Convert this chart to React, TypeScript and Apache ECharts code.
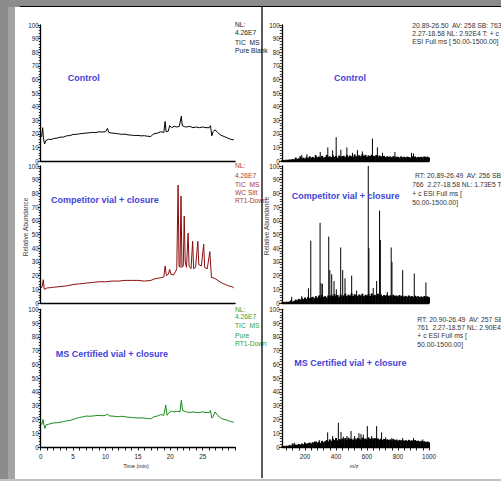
import React, { useEffect, useRef } from 'react';
import * as echarts from 'echarts';

// ---------- TIC chromatograms: [time (min), relative abundance] ----------
const controlTic: number[][] = [
  [0, 17.5], [0.15, 18], [0.3, 24.5], [0.42, 17], [0.6, 12.5], [0.8, 15], [1.2, 16], [1.6, 15.8], [2, 16.5], [2.5, 16.8], [3, 17.5], [3.5, 17.6],
  [4, 18.5], [4.5, 18.7], [5, 19.5], [5.5, 19.6], [6, 20], [6.5, 20.3], [7, 20.5], [7.5, 20.8], [8, 21], [8.5, 20.9], [9, 21.5], [9.5, 21.3],
  [10, 21.5], [10.3, 24], [10.5, 21], [11, 20.5], [11.5, 20.3], [12, 20], [12.5, 19.6], [13, 19.8], [13.5, 19.2], [14, 19], [14.5, 18.7],
  [15, 18.8], [15.5, 18.5], [16, 18.6], [16.5, 18.2], [17, 18], [17.3, 19.5], [17.5, 20], [18, 20.5], [18.5, 21.5], [19, 21], [19.2, 29],
  [19.35, 21.5], [19.7, 22], [19.9, 26], [20.2, 24.5], [20.6, 25.5], [21, 25], [21.4, 25.5], [21.7, 33], [21.85, 26], [22.2, 25.2],
  [22.5, 25], [23, 25.5], [23.5, 24.5], [24, 25], [24.5, 24.5], [25, 25], [25.5, 24.5], [26, 24.5], [26.2, 26], [26.4, 18.5], [26.6, 21.5],
  [26.9, 23], [27.3, 21], [27.8, 19], [28.3, 18], [28.8, 17], [29.3, 16], [29.8, 15.5]
];

const competitorTic: number[][] = [
  [0, 11], [0.2, 11.5], [0.4, 17], [0.55, 10], [1, 11], [1.5, 11.2], [2, 11.5], [3, 12], [4, 12.5], [5, 13.5], [6, 14], [7, 14.5],
  [8, 15], [9, 15.5], [10, 15.5], [11, 16], [12, 16], [13, 16.5], [14, 16.5], [15, 16.5], [16, 16], [17, 16.5], [17.5, 17.5], [18, 18],
  [18.6, 18.5], [19, 19], [19.2, 27], [19.4, 20], [19.7, 21], [19.9, 24.5], [20.1, 21], [20.5, 20.5], [20.8, 23], [21, 25], [21.2, 86],
  [21.35, 27], [21.5, 26], [21.65, 78], [21.8, 26], [22, 27], [22.15, 63.5], [22.3, 30], [22.5, 26], [22.75, 51], [22.9, 27], [23.2, 25],
  [23.45, 45], [23.6, 25], [23.9, 26], [24.25, 45], [24.4, 28], [24.8, 27], [25.15, 43], [25.3, 26], [25.7, 25], [26.1, 37.5],
  [26.35, 18.5], [26.6, 18.5], [27, 17.5], [27.5, 16], [28, 14.5], [28.5, 13.5], [29, 12.5], [29.5, 12], [29.8, 11]
];

const certifiedTic: number[][] = [
  [0, 17], [0.2, 16.5], [0.35, 20], [0.5, 16], [0.65, 13.5], [0.8, 16], [1.2, 16.5], [2, 17.5], [2.5, 17.6], [3, 18], [3.5, 18.4],
  [4, 19], [4.5, 19.3], [5, 20], [5.5, 20.8], [6, 21.5], [6.5, 21.8], [7, 22.5], [7.5, 22.3], [8, 22.5], [8.5, 22.8], [9, 23], [9.5, 22.7],
  [10, 23], [10.3, 24], [10.6, 22.5], [11, 22.5], [11.5, 22.2], [12, 22], [12.5, 22.3], [13, 22], [13.5, 21.6], [14, 21.5], [14.5, 21.2],
  [15, 21], [15.5, 21.2], [16, 21], [16.5, 20.7], [17, 20.5], [17.5, 22], [18, 22.5], [18.5, 23.5], [19, 23], [19.3, 30.5], [19.5, 23],
  [19.8, 25], [20.2, 26], [20.6, 25.5], [21, 26], [21.5, 25.5], [21.7, 34], [21.9, 26.5], [22.5, 25.5], [23, 25], [23.5, 25.5], [24, 25],
  [24.5, 25], [25, 25.5], [25.5, 25], [26, 25], [26.2, 26.5], [26.4, 21], [26.6, 22], [26.9, 25.5], [27.3, 23], [27.8, 21], [28.3, 20],
  [28.8, 19.5], [29.3, 18.5], [29.8, 18]
];

// ---------- Mass spectra ----------
const MZ_START = 50;
const MZ_STEP = 10;

const controlBase: number[] = [
  0.5, 0.8, 0.6, 1, 0.8, 1.2, 1, 1.5, 1.2, 2.5,
  1.5, 2, 3.5, 2, 2.5, 1.8, 3, 2.2, 3.5, 2.5,
  3, 2.2, 4, 2.8, 3.2, 2.5, 3.8, 2.6, 3, 4.5,
  3, 3.5, 2.8, 4.2, 3, 3.8, 2.5, 4, 3.2, 3.6,
  3.8, 3, 4.5, 3.2, 4, 3.5, 3, 4.8, 3.4, 3.9,
  4.2, 3.5, 5, 3.8, 4.5, 3.2, 4.1, 3.6, 4.6, 3.9,
  3.6, 4.4, 3.2, 4, 3.5, 3, 3.8, 2.9, 3.4, 3.1,
  3.3, 2.8, 3.6, 2.7, 3.2, 3, 2.6, 3.4, 2.8, 3.1,
  2.7, 3.2, 2.9, 2.5, 3.5, 2.8, 3.3, 2.6, 3, 2.8,
  3.1, 2.7, 3.4, 2.9, 3.2, 2.6
];
const controlPeaks: number[][] = [
  [179, 4.5], [212, 5], [266, 4.5], [298, 6.6], [347, 10], [378, 7.8], [401, 17.5], [431, 8.3], [470, 10], [506, 6],
  [538, 8], [570, 7], [635, 16.5], [667, 10], [700, 6], [780, 6.6], [887, 6], [900, 5.5]
];

const competitorBase: number[] = [
  0.5, 0.8, 0.6, 1, 0.7, 1.2, 2, 1, 1.5, 2.5,
  2, 3, 2.5, 3.5, 2.8, 4, 3, 4.5, 3.5, 4,
  4.5, 3.5, 5, 4, 5.5, 4.2, 6, 4.5, 5, 4,
  5.5, 4.8, 6, 5, 6.5, 5.2, 5.8, 4.6, 6.2, 5,
  5.5, 6.8, 5, 6, 5.4, 7, 5.2, 6.4, 5.8, 5,
  6.2, 5.5, 6.8, 5, 6, 5.6, 6.5, 5.2, 7, 5.5,
  6, 5.2, 6.8, 5.5, 6.2, 5, 5.8, 5.4, 6, 5.2,
  5.6, 4.8, 6, 5.2, 5.5, 4.9, 5.8, 5, 5.4, 4.7,
  5.2, 4.6, 5.5, 4.8, 5, 4.5, 5.3, 4.7, 5, 4.4,
  4.8, 4.3, 5.1, 4.6, 4.9, 4.2
];
const competitorPeaks: number[][] = [
  [114, 4.5], [179, 5], [222, 10.7], [237, 45.5], [297, 58.5], [303, 14.5], [312, 14], [353, 48.5], [360, 24], [372, 21],
  [387, 16], [402, 10], [430, 40.5], [443, 24], [458, 18], [501, 20], [533, 9], [608, 100], [612, 40], [640, 11], [662, 16],
  [681, 67.5], [686, 46], [731, 8], [756, 40.5], [761, 30], [830, 24], [905, 21.5], [980, 15]
];

const certifiedBase: number[] = [
  0.5, 0.8, 0.6, 1, 0.7, 1.5, 1, 2.5, 1.2, 1.8,
  1.5, 2.2, 1.8, 2.5, 2, 3, 2.4, 2.8, 3.2, 2.6,
  3.5, 2.8, 4, 3.2, 3.8, 3, 4.5, 3.5, 4.2, 5,
  4, 5.5, 4.5, 6, 5, 6.5, 4.8, 5.8, 5.2, 6.2,
  5.5, 6.5, 5, 6.8, 5.8, 6, 5.2, 6.4, 5.5, 6.6,
  6, 5.4, 6.8, 5.8, 6.2, 5.5, 7, 5.8, 6.4, 6,
  6.5, 5.8, 6.2, 5.4, 6, 5.2, 5.8, 5, 5.6, 5.2,
  5.5, 4.8, 5.8, 5, 5.4, 4.6, 5.2, 4.8, 5, 4.5,
  5, 4.4, 5.2, 4.6, 4.8, 4.2, 5, 4.4, 4.6, 4,
  4.5, 3.8, 4.2, 3.6, 4, 3.5
];
const certifiedPeaks: number[][] = [
  [131, 3], [197, 3.5], [262, 4], [292, 5], [346, 10.6], [378, 8], [415, 17.6], [432, 11], [447, 7.5], [470, 8], [497, 11.6],
  [520, 8], [548, 10], [561, 9.5], [576, 9], [602, 15.2], [630, 8], [662, 15.2], [694, 10.6], [720, 7], [760, 6.5], [830, 6.5],
  [900, 6.5], [960, 5.5]
];

// ---------- tick labels ----------
const mzLabels = [200, 400, 600, 800, 1000];
const mzTicks = [80, 120, 160, 200, 240, 280, 320, 360, 400, 440, 480, 520, 560, 600, 640, 680, 720, 760, 800, 840, 880, 920, 960, 1000];

const panelTitles = ['Control', 'Competitor vial + closure', 'MS Certified vial + closure'];
const FONT = '"Liberation Sans", Arial, sans-serif';
const BLUE = '#4343d8';

const GRID_TOPS = [25, 166, 309.3];
const GRID_HEIGHTS = [136, 137, 137.7];
const LEFT_X = 40.7, LEFT_W = 194.4;
const RIGHT_X = 281.8, RIGHT_W = 147.2;

const stick = (w: number) => (params: any, api: any) => {
  const x = api.value(0);
  const y = api.value(1);
  const p0 = api.coord([x, 0]);
  const p1 = api.coord([x, y]);
  return {
    type: 'line',
    shape: { x1: p0[0], y1: p0[1], x2: p1[0], y2: p1[1] },
    style: { stroke: '#000', lineWidth: w }
  };
};

function txt(text: string, x: number, y: number, opts: any = {}) {
  return {
    type: 'text',
    x, y, z: 50,
    style: {
      text,
      fill: opts.fill || '#222',
      font: `${opts.bold ? 'bold ' : ''}${opts.size || 6.7}px ${FONT}`,
      textAlign: opts.align || 'left',
      textVerticalAlign: 'middle'
    },
    rotation: opts.rotation || 0
  };
}

function buildOption() {
  const grids: any[] = [];
  const xAxes: any[] = [];
  const yAxes: any[] = [];
  const series: any[] = [];
  const axisLine = { show: true, lineStyle: { color: '#000', width: 1.3 } };

  for (let i = 0; i < 3; i++) {
    grids.push({ left: LEFT_X, top: GRID_TOPS[i], width: LEFT_W, height: GRID_HEIGHTS[i] });
  }
  for (let i = 0; i < 3; i++) {
    grids.push({ left: RIGHT_X, top: GRID_TOPS[i], width: RIGHT_W, height: GRID_HEIGHTS[i] });
  }
  for (let g = 0; g < 6; g++) {
    yAxes.push({
      type: 'value', gridIndex: g, min: 0, max: 100, interval: 10,
      axisLine,
      axisTick: { show: true, length: 3, lineStyle: { color: '#000', width: 0.8 } },
      minorTick: { show: true, splitNumber: 5, length: 2, lineStyle: { color: '#000', width: 0.8 } },
      axisLabel: { fontSize: 6.3, margin: 2, color: '#222', fontFamily: FONT },
      splitLine: { show: false }, minorSplitLine: { show: false }
    });
  }
  for (let i = 0; i < 3; i++) {
    const bottom = i === 2;
    xAxes.push({
      type: 'value', gridIndex: i, min: 0, max: 30, interval: 5,
      axisLine,
      axisTick: { show: bottom, length: 3.5, lineStyle: { color: '#000', width: 0.9 } },
      minorTick: { show: bottom, splitNumber: 5, length: 3.5, lineStyle: { color: '#000', width: 0.9 } },
      axisLabel: { show: bottom, fontSize: 6.3, margin: 6, color: '#222', fontFamily: FONT, showMaxLabel: false },
      splitLine: { show: false }, minorSplitLine: { show: false }
    });
  }
  for (let i = 0; i < 3; i++) {
    const bottom = i === 2;
    xAxes.push({
      type: 'value', gridIndex: 3 + i, min: 50, max: 1000,
      axisLine,
      axisTick: { show: bottom, length: 3.5, customValues: mzTicks, lineStyle: { color: '#000', width: 0.9 } },
      axisLabel: {
        show: bottom, fontSize: 6.3, margin: 6, color: '#222', fontFamily: FONT, customValues: mzLabels,
        formatter: (v: number) => String(v)
      },
      splitLine: { show: false }
    });
  }

  const tics = [controlTic, competitorTic, certifiedTic];
  const ticColors = ['#000000', '#8a0d0d', '#1a8a1a'];
  tics.forEach((d, i) => {
    series.push({
      type: 'line', xAxisIndex: i, yAxisIndex: i, data: d, showSymbol: false, symbol: 'none',
      lineStyle: { color: ticColors[i], width: 1 }, silent: true
    });
  });

  const bases = [controlBase, competitorBase, certifiedBase];
  const peaks = [controlPeaks, competitorPeaks, certifiedPeaks];
  bases.forEach((b, i) => {
    series.push({
      type: 'custom', xAxisIndex: 3 + i, yAxisIndex: 3 + i,
      data: b.map((v, k) => [MZ_START + k * MZ_STEP, v]),
      renderItem: stick(2), encode: { x: 0, y: 1 }, silent: true
    });
    series.push({
      type: 'custom', xAxisIndex: 3 + i, yAxisIndex: 3 + i,
      data: peaks[i], renderItem: stick(1), encode: { x: 0, y: 1 }, silent: true
    });
  });

  const graphics: any[] = [
    // frame lines
    { type: 'line', z: 60, shape: { x1: 20, y1: 6.5, x2: 501, y2: 6.5 }, style: { stroke: '#000', lineWidth: 1.2 } },
    { type: 'line', z: 60, shape: { x1: 262, y1: 7, x2: 262, y2: 478 }, style: { stroke: '#000', lineWidth: 1.3 } },

    // left annotations
    txt('NL:', 235, 24), txt('4.26E7', 235, 32.3), txt('TIC  MS', 235, 42.3), txt('Pure Blank', 235, 50.7),
    txt('NL:', 235, 165, { fill: '#a83838' }), txt('4.26E7', 235, 175, { fill: '#a83838' }),
    txt('TIC  MS', 235, 184, { fill: '#a83838' }), txt('WC Slit', 235, 192, { fill: '#a83838' }),
    txt('RT1-Down', 235, 200, { fill: '#a83838' }),
    txt('NL:', 235, 309, { fill: '#34a034' }), txt('4.26E7', 235, 316.5, { fill: '#34a034' }),
    txt('TIC  MS', 235, 325.5, { fill: '#34a034' }), txt('Pure', 235, 335, { fill: '#34a034' }),
    txt('RT1-Down', 235, 343.3, { fill: '#34a034' }),

    // right annotations
    txt('20.89-26.50  AV: 258 SB: 763', 412.3, 25, { size: 6.8, fill: '#333' }),
    txt('2.27-18.58 NL: 2.92E4 T: + c', 412.3, 33.3, { size: 6.8, fill: '#333' }),
    txt('ESI Full ms [ 50.00-1500.00]', 412.3, 41.7, { size: 6.8, fill: '#333' }),
    txt('RT: 20.89-26.49  AV: 256 SB:', 415, 175.7, { size: 6.8, fill: '#333' }),
    txt('766  2.27-18.58 NL: 1.73E5 T', 412.3, 184.3, { size: 6.8, fill: '#333' }),
    txt('+ c ESI Full ms [', 412.3, 193.3, { size: 6.8, fill: '#333' }),
    txt('50.00-1500.00]', 412.3, 202.3, { size: 6.8, fill: '#333' }),
    txt('RT: 20.90-26.49  AV: 257 SB:', 417.3, 319.3, { size: 6.8, fill: '#333' }),
    txt('761  2.27-18.57 NL: 2.90E4', 417.3, 327.7, { size: 6.8, fill: '#333' }),
    txt('+ c ESI Full ms [', 417.3, 335.5, { size: 6.8, fill: '#333' }),
    txt('50.00-1500.00]', 417.3, 344.3, { size: 6.8, fill: '#333' }),

    // panel titles
    txt(panelTitles[0], 67.7, 78, { bold: true, size: 9, fill: BLUE }),
    txt(panelTitles[1], 51, 200, { bold: true, size: 9, fill: BLUE }),
    txt(panelTitles[2], 55.7, 354.3, { bold: true, size: 9, fill: BLUE }),
    txt(panelTitles[0], 334, 78, { bold: true, size: 9, fill: BLUE }),
    txt(panelTitles[1], 291.7, 195.7, { bold: true, size: 9, fill: BLUE }),
    txt(panelTitles[2], 294.3, 363.3, { bold: true, size: 9, fill: BLUE }),

    // axis names
    txt('Relative Abundance', 25, 227, { size: 6.6, fill: '#444', align: 'center', rotation: Math.PI / 2 }),
    txt('Relative Abundance', 266, 226, { size: 6.6, fill: '#444', align: 'center', rotation: Math.PI / 2 }),
    txt('Time (min)', 136, 466, { size: 5.4, fill: '#222', align: 'center' }),
    txt('m/z', 354, 465.5, { size: 5.4, fill: '#222', align: 'center' })
  ];

  return {
    animation: false,
    backgroundColor: 'transparent',
    textStyle: { fontFamily: FONT },
    grid: grids,
    xAxis: xAxes,
    yAxis: yAxes,
    series,
    graphic: { elements: graphics }
  };
}

export default function App() {
  const ref = useRef<HTMLDivElement>(null);
  useEffect(() => {
    const chart = echarts.init(ref.current!, null, { renderer: 'svg' });
    chart.setOption(buildOption() as any);
    return () => chart.dispose();
  }, []);
  return (
    <div style={{ position: 'fixed', left: 0, top: 0, width: 501, height: 481, background: '#8c8c8c', overflow: 'hidden' }}>
      <div style={{ position: 'absolute', left: 8, top: 7, width: 7, height: 472, background: '#a4a4a4' }} />
      <div style={{ position: 'absolute', left: 15, top: 7, width: 486, height: 472, background: '#ffffff' }} />
      <div style={{ position: 'absolute', left: 0, top: 479, width: 501, height: 2, background: '#c2c2c2' }} />
      <div ref={ref} style={{ position: 'absolute', left: 0, top: 0, width: 501, height: 481 }} />
    </div>
  );
}
